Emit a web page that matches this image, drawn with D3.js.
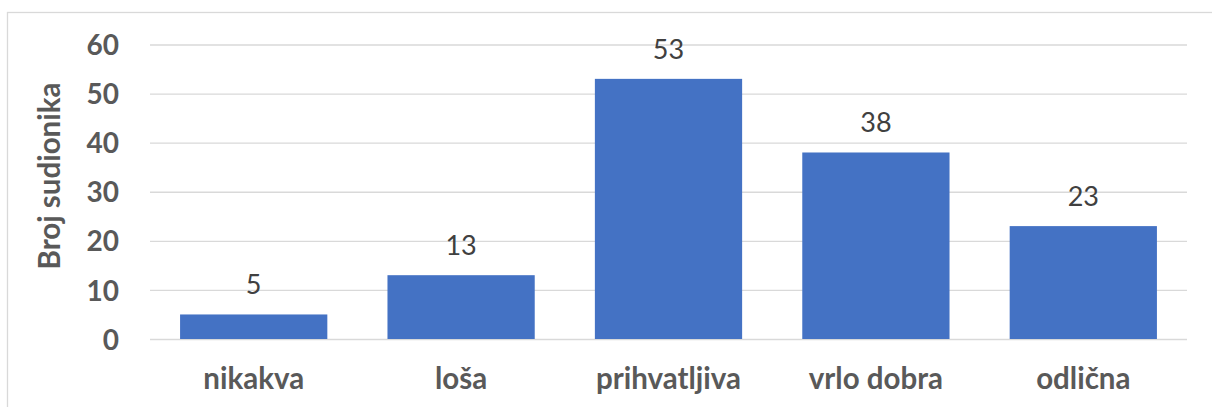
<!DOCTYPE html>
<html>
<head>
<meta charset="utf-8">
<script src="https://cdn.jsdelivr.net/npm/d3@7"></script>
<style>
  html, body { margin: 0; padding: 0; background: #fff; }
  svg { display: block; }
</style>
</head>
<body>
<svg id="chart" width="1212" height="407"></svg>
<script>
// Rating categories and participant counts
const categories = ["nikakva", "loša", "prihvatljiva", "vrlo dobra", "odlična"];
const counts = [5, 13, 53, 38, 23];
const yTicks = [0, 10, 20, 30, 40, 50, 60];
const yTitle = "Broj sudionika";

const W = 1212, H = 407;
const plot = { left: 150, right: 1187, top: 44.5, bottom: 339 };
const font = "Lato, 'Noto Sans', sans-serif";

const svg = d3.select("#chart");

// chart frame
svg.append("rect")
  .attr("x", 7.5).attr("y", 12.5)
  .attr("width", W + 10).attr("height", H + 10)
  .attr("fill", "none").attr("stroke", "#d9d9d9").attr("stroke-width", 1.3);

const x = d3.scaleBand()
  .domain(categories)
  .range([plot.left, plot.right])
  .paddingInner(0.29)
  .paddingOuter(0.145);

const y = d3.scaleLinear()
  .domain([0, 60])
  .range([plot.bottom, plot.top]);

// horizontal gridlines and value ticks
const yAxis = d3.axisLeft(y).tickValues(yTicks).tickSize(-(plot.right - plot.left)).tickPadding(31);
const gy = svg.append("g")
  .attr("transform", `translate(${plot.left},0)`)
  .call(yAxis);
gy.select(".domain").remove();
gy.selectAll(".tick line").attr("stroke", "#d9d9d9").attr("stroke-width", 1.3);
gy.selectAll(".tick text")
  .attr("fill", "#595959")
  .attr("font-family", font)
  .attr("font-weight", "bold")
  .attr("font-size", 28)
  .attr("dy", "0.36em");

// bars
svg.append("g").selectAll("rect")
  .data(categories)
  .join("rect")
  .attr("x", d => x(d))
  .attr("width", x.bandwidth())
  .attr("y", (d, i) => y(counts[i]))
  .attr("height", (d, i) => y(0) - y(counts[i]))
  .attr("fill", "#4472c4");

// value labels
svg.append("g").selectAll("text")
  .data(categories)
  .join("text")
  .attr("x", d => x(d) + x.bandwidth() / 2)
  .attr("y", (d, i) => y(counts[i]) - 20)
  .attr("text-anchor", "middle")
  .attr("fill", "#404040")
  .attr("font-family", font)
  .attr("font-size", 27)
  .text((d, i) => counts[i]);

// category axis
const xAxis = d3.axisBottom(x).tickSize(0).tickPadding(0);
const gx = svg.append("g")
  .attr("transform", `translate(0,${plot.bottom})`)
  .call(xAxis);
gx.select(".domain").remove();
gx.selectAll(".tick text")
  .attr("y", 50)
  .attr("dy", 0)
  .attr("fill", "#595959")
  .attr("font-family", font)
  .attr("font-weight", "bold")
  .attr("font-size", 29.5);

// y axis title
svg.append("text")
  .attr("transform", `translate(60,176) rotate(-90)`)
  .attr("text-anchor", "middle")
  .attr("fill", "#595959")
  .attr("font-family", font)
  .attr("font-weight", "bold")
  .attr("font-size", 29.5)
  .text(yTitle);
</script>
</body>
</html>
